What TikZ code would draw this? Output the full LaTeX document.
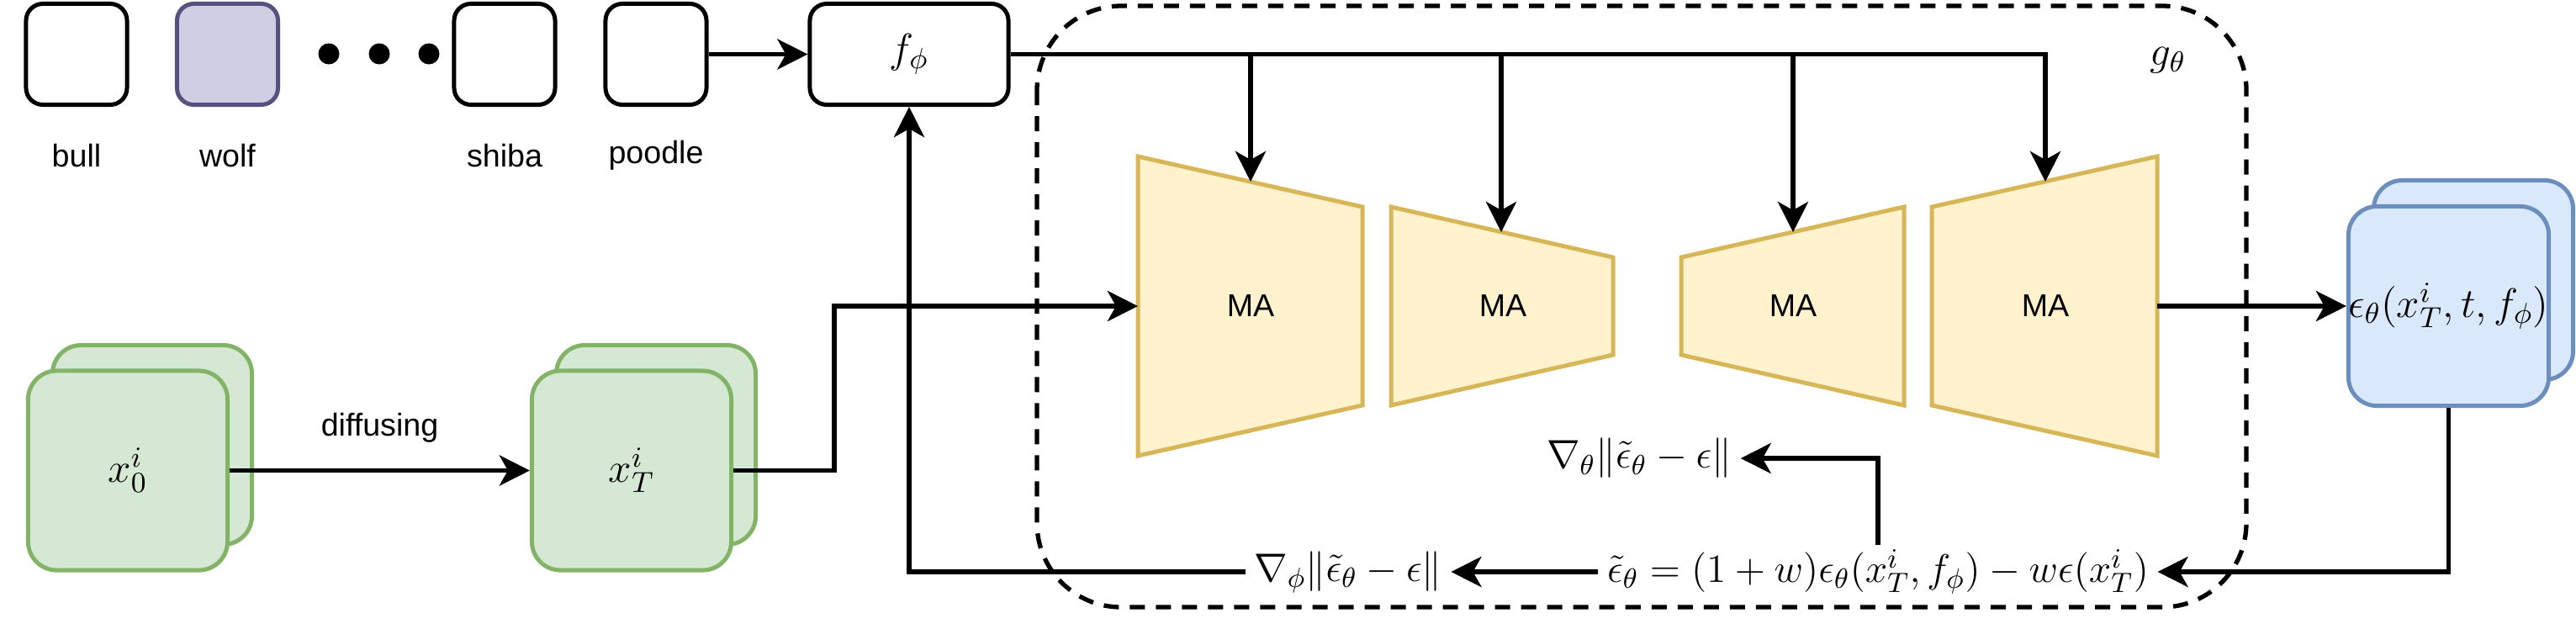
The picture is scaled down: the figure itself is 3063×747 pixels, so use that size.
\RequirePackage{fix-cm}
\documentclass[tikz,border=0pt]{standalone}
\usepackage{fontspec}
\setsansfont{Liberation Sans}
\usetikzlibrary{arrows.meta,calc}
\definecolor{gfill}{HTML}{D5E8D4}
\definecolor{gline}{HTML}{82B366}
\definecolor{bfill}{HTML}{DAE8FC}
\definecolor{bline}{HTML}{6C8EBF}
\definecolor{yfill}{HTML}{FFF2CC}
\definecolor{yline}{HTML}{D6B656}
\definecolor{pfill}{HTML}{D0CEE2}
\definecolor{pline}{HTML}{56517E}
\tikzset{
  blw/.style={line width=1.42pt},
  clw/.style={line width=1.65pt},
  card/.style={draw, blw, rounded corners=0.2cm, minimum width=1.2cm, minimum height=1.2cm, inner sep=0pt},
  stackbox/.style={draw, blw, rounded corners=0.34cm, minimum width=2.37cm, minimum height=2.37cm, inner sep=0pt,
    font=\fontsize{14}{16}\selectfont},
  greenbox/.style={stackbox, fill=gfill, draw=gline},
  bluebox/.style={stackbox, fill=bfill, draw=bline},
  trap/.style={blw, fill=yfill, draw=yline, line join=miter},
  arr/.style={clw, -{Stealth[length=0.36cm, width=0.36cm, inset=0.1cm]}},
  sans/.style={font=\fontsize{10.7}{12}\selectfont\sffamily, inner sep=0pt},
  mth/.style={font=\fontsize{14}{16}\selectfont, inner sep=0pt},
  eqn/.style={font=\fontsize{13.5}{16}\selectfont, inner xsep=0.1cm, inner ysep=0.05cm},
  dashbox/.style={line width=1.5pt, dash pattern=on 0.18cm off 0.13cm, rounded corners=1cm},
}
\begin{document}
\begin{tikzpicture}[x=0.01cm, y=-0.01cm]
\useasboundingbox (0,0) rectangle (3063,747);

% dashed g_theta region
\draw[dashbox] (1233,7) rectangle (2671,722);
\node[mth] (g) at (2578,72) {$g_\theta$};

% class cards
\node[card] (bull) at (91,64.5) {};
\node[card, fill=pfill, draw=pline] (wolf) at (270.5,64.5) {};
\node[card] (shiba) at (600,64.5) {};
\node[card] (poodle) at (780,64.5) {};
\fill (391,64) circle (12.5);
\fill (451,64) circle (12.5);
\fill (510,64) circle (12.5);
\node[sans] (lbull) at (91,185) {bull};
\node[sans] (lwolf) at (270.5,185) {wolf};
\node[sans] (lshiba) at (600,185) {shiba};
\node[sans] (lpoodle) at (780,185) {poodle};

% f_phi
\node[card, minimum width=2.36cm, font=\fontsize{14}{16}\selectfont] (f) at (1081,64.5) {$f_\phi$};

% stacked inputs
\node[greenbox] (x0b) at (181,529) {};
\node[greenbox] (x0) at (152,559.5) {$x_0^i$};
\node[greenbox] (xTb) at (780,529) {};
\node[greenbox] (xT) at (751,559.5) {$x_T^i$};
\node[bluebox] (epsb) at (2941,333) {};
\node[bluebox, inner sep=0pt] (eps) at (2911.5,364) {$\epsilon_\theta(x_T^i,t,f_\phi)$};

% trapezoids
\draw[trap] (1353,186) -- (1620,246) -- (1620,482) -- (1353,542) -- cycle;
\draw[trap] (1654,246) -- (1918,306) -- (1918,422) -- (1654,482) -- cycle;
\draw[trap] (1999,306) -- (2264,246) -- (2264,482) -- (1999,422) -- cycle;
\draw[trap] (2297,246) -- (2565,186) -- (2565,542) -- (2297,482) -- cycle;
\node[sans] (ma1) at (1487,364) {MA};
\node[sans] (ma2) at (1787,364) {MA};
\node[sans] (ma3) at (2132,364) {MA};
\node[sans] (ma4) at (2432,364) {MA};
\coordinate (t1top) at (1487,216);
\coordinate (t2top) at (1785,276);
\coordinate (t3top) at (2132,276);
\coordinate (t4top) at (2432,216);
\coordinate (t1in) at (1353,364);
\coordinate (t4out) at (2565,364);
\coordinate (bend1) at (992,559.5);

% loss texts
\node[eqn] (eq) at (2233,680) {$\tilde\epsilon_\theta=(1+w)\epsilon_\theta(x_T^i,f_\phi)-w\epsilon(x_T^i)$};
\node[eqn] (nphi) at (1603,680) {$\nabla_\phi\|\tilde\epsilon_\theta-\epsilon\|$};
\node[eqn] (ntheta) at (1949,545) {$\nabla_\theta\|\tilde\epsilon_\theta-\epsilon\|$};

% connectors
\draw[arr] (poodle.east) -- (f.west);
\draw[arr] (f.east) -| (t1top);
\draw[arr] (f.east) -| (t2top);
\draw[arr] (f.east) -| (t3top);
\draw[arr] (f.east) -| (t4top);
\draw[arr] (x0.east) -- node[sans, above=0.3cm] (ldiff) {diffusing} (xT.west);
\draw[arr] (xT.east) -- (bend1) |- (t1in);
\draw[arr] (t4out) -- (eps.west);
\draw[arr] (eps.south) |- (eq.east);
\draw[arr] (eq.west) -- (nphi.east);
\draw[arr] (eq.north) |- (ntheta.east);
\draw[arr] (nphi.west) -| (f.south);
\end{tikzpicture}
\end{document}
